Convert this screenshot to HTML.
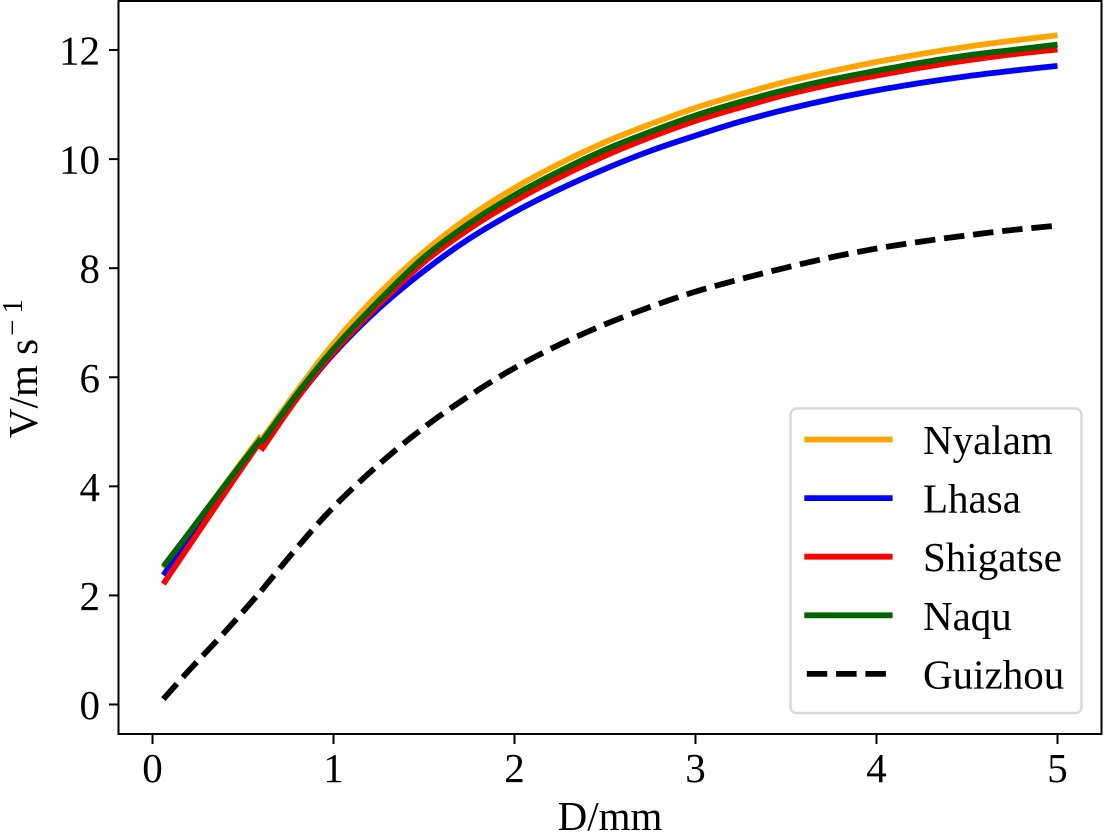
<!DOCTYPE html>
<html lang="en">
<head>
<meta charset="utf-8">
<title>V versus D chart</title>
<style>
html,body{margin:0;padding:0;background:#fff;}
svg{display:block;}
text{font-family:"Liberation Serif","Times New Roman",serif;fill:#000;}
</style>
</head>
<body>
<svg id="chart" xmlns="http://www.w3.org/2000/svg" width="1104" height="832" viewBox="0 0 1104 832">
  <rect x="0" y="0" width="1104" height="832" fill="#fff"/>
  <g id="series-layer"></g>
  <rect x="118.5" y="1" width="983" height="733" fill="none" stroke="#000" stroke-width="2"/>
  <g id="x-axis"></g>
  <g id="y-axis"></g>
  <text x="610" y="830" font-size="41" text-anchor="middle">D/mm</text>
  <text transform="translate(37,438) rotate(-90)" font-size="41">V/m s<tspan dx="3" dy="-15" font-size="29">−</tspan><tspan dx="6" font-size="29">1</tspan></text>
  <g id="legend">
    <rect x="790.5" y="408.5" width="291" height="304.5" rx="6" fill="#fff" fill-opacity="0.9" stroke="#d9d9d9" stroke-width="2.4"/>
  </g>
</svg>
<script>
const xValues = [0.06,0.2,0.4,0.6,0.6,0.8,1,1.25,1.5,1.75,2,2.25,2.5,2.75,3,3.25,3.5,3.75,4,4.25,4.5,4.75,5];
const nyalamValues = [2.50,3.13,4.03,4.93,4.84,5.76,6.62,7.53,8.30,8.94,9.47,9.92,10.31,10.64,10.94,11.19,11.42,11.61,11.78,11.93,12.06,12.17,12.27];
const lhasaValues = [2.37,3.02,3.94,4.85,4.70,5.62,6.43,7.26,7.95,8.54,9.03,9.45,9.82,10.15,10.43,10.69,10.91,11.10,11.26,11.40,11.52,11.62,11.71];
const shigatseValues = [2.21,2.90,3.88,4.85,4.66,5.62,6.46,7.33,8.11,8.72,9.23,9.67,10.06,10.40,10.70,10.95,11.18,11.37,11.53,11.68,11.81,11.92,12.01];
const naquValues = [2.53,3.14,4.02,4.88,4.80,5.70,6.52,7.40,8.20,8.82,9.34,9.78,10.17,10.50,10.80,11.05,11.27,11.46,11.62,11.77,11.90,12.00,12.10];
const guizhouValues = [0.10,0.62,1.33,2.08,2.08,2.88,3.62,4.40,5.08,5.66,6.17,6.60,6.97,7.29,7.57,7.80,8.01,8.20,8.36,8.49,8.60,8.70,8.78];
const xTickLabels = [0,1,2,3,4,5];
const yTickLabels = [0,2,4,6,8,10,12];
const seriesNames = ["Nyalam","Lhasa","Shigatse","Naqu","Guizhou"];

const SVGNS = "http://www.w3.org/2000/svg";
const xScale = function (v) { return 152.5 + v * 181; };
const yScale = function (v) { return 704.5 - v * 54.54; };

const seriesStyles = [
  { color: "#ffa500", dash: "" },
  { color: "#0000ff", dash: "" },
  { color: "#ff0000", dash: "" },
  { color: "#006400", dash: "" },
  { color: "#000000", dash: "20.5 8.8" }
];
const seriesData = [nyalamValues, lhasaValues, shigatseValues, naquValues, guizhouValues];

function splinePath(xs, ys) {
  let d = "";
  let runs = [];
  let run = [];
  for (let i = 0; i < xs.length; i++) {
    if (i > 0 && xs[i] === xs[i - 1]) {
      runs.push(run);
      run = [];
    }
    run.push([xScale(xs[i]), yScale(ys[i])]);
  }
  runs.push(run);
  for (let r = 0; r < runs.length; r++) {
    const p = runs[r];
    d += "M" + p[0][0].toFixed(2) + " " + p[0][1].toFixed(2);
    for (let i = 0; i < p.length - 1; i++) {
      const p0 = p[Math.max(i - 1, 0)];
      const p1 = p[i];
      const p2 = p[i + 1];
      const p3 = p[Math.min(i + 2, p.length - 1)];
      const c1x = p1[0] + (p2[0] - p0[0]) / 6;
      const c1y = p1[1] + (p2[1] - p0[1]) / 6;
      const c2x = p2[0] - (p3[0] - p1[0]) / 6;
      const c2y = p2[1] - (p3[1] - p1[1]) / 6;
      d += "C" + c1x.toFixed(2) + " " + c1y.toFixed(2) + " " + c2x.toFixed(2) + " " + c2y.toFixed(2) + " " + p2[0].toFixed(2) + " " + p2[1].toFixed(2);
    }
  }
  return d;
}

const seriesLayer = document.getElementById("series-layer");
const drawOrder = [0, 1, 2, 3, 4];
drawOrder.forEach(function (idx) {
  const el = document.createElementNS(SVGNS, "path");
  el.setAttribute("d", splinePath(xValues, seriesData[idx]));
  el.setAttribute("fill", "none");
  el.setAttribute("stroke", seriesStyles[idx].color);
  el.setAttribute("stroke-width", "5.8");
  el.setAttribute("stroke-linejoin", "round");
  if (seriesStyles[idx].dash) el.setAttribute("stroke-dasharray", seriesStyles[idx].dash);
  
  
  seriesLayer.appendChild(el);
});

const xAxis = document.getElementById("x-axis");
xTickLabels.forEach(function (v) {
  const tick = document.createElementNS(SVGNS, "line");
  tick.setAttribute("x1", xScale(v));
  tick.setAttribute("x2", xScale(v));
  tick.setAttribute("y1", 734);
  tick.setAttribute("y2", 744);
  tick.setAttribute("stroke", "#000");
  tick.setAttribute("stroke-width", "2");
  
  
  xAxis.appendChild(tick);
  const label = document.createElementNS(SVGNS, "text");
  label.setAttribute("x", xScale(v));
  label.setAttribute("y", 782);
  label.setAttribute("font-size", "41");
  label.setAttribute("text-anchor", "middle");
  label.textContent = String(v);
  
  
  xAxis.appendChild(label);
});

const yAxis = document.getElementById("y-axis");
yTickLabels.forEach(function (v) {
  const tick = document.createElementNS(SVGNS, "line");
  tick.setAttribute("x1", 109);
  tick.setAttribute("x2", 118.5);
  tick.setAttribute("y1", yScale(v));
  tick.setAttribute("y2", yScale(v));
  tick.setAttribute("stroke", "#000");
  tick.setAttribute("stroke-width", "2");
  
  
  yAxis.appendChild(tick);
  const label = document.createElementNS(SVGNS, "text");
  label.setAttribute("x", 100);
  label.setAttribute("y", yScale(v) + 14.5);
  label.setAttribute("font-size", "41");
  label.setAttribute("text-anchor", "end");
  label.textContent = String(v);
  
  
  yAxis.appendChild(label);
});

const legend = document.getElementById("legend");
seriesNames.forEach(function (name, i) {
  const rowY = 439.5 + i * 58.6;
  const dashed = !!seriesStyles[i].dash;
  const line = document.createElementNS(SVGNS, "line");
  line.setAttribute("x1", dashed ? 806.8 : 804.3);
  line.setAttribute("x2", dashed ? 886 : 892.6);
  line.setAttribute("y1", rowY);
  line.setAttribute("y2", rowY);
  line.setAttribute("stroke", seriesStyles[i].color);
  line.setAttribute("stroke-width", "5.8");
  if (dashed) line.setAttribute("stroke-dasharray", seriesStyles[i].dash);
  
  
  legend.appendChild(line);
  const label = document.createElementNS(SVGNS, "text");
  label.setAttribute("x", 923);
  label.setAttribute("y", rowY + 14.5);
  label.setAttribute("font-size", "41");
  label.textContent = name;
  
  
  legend.appendChild(label);
});
</script>
</body>
</html>
